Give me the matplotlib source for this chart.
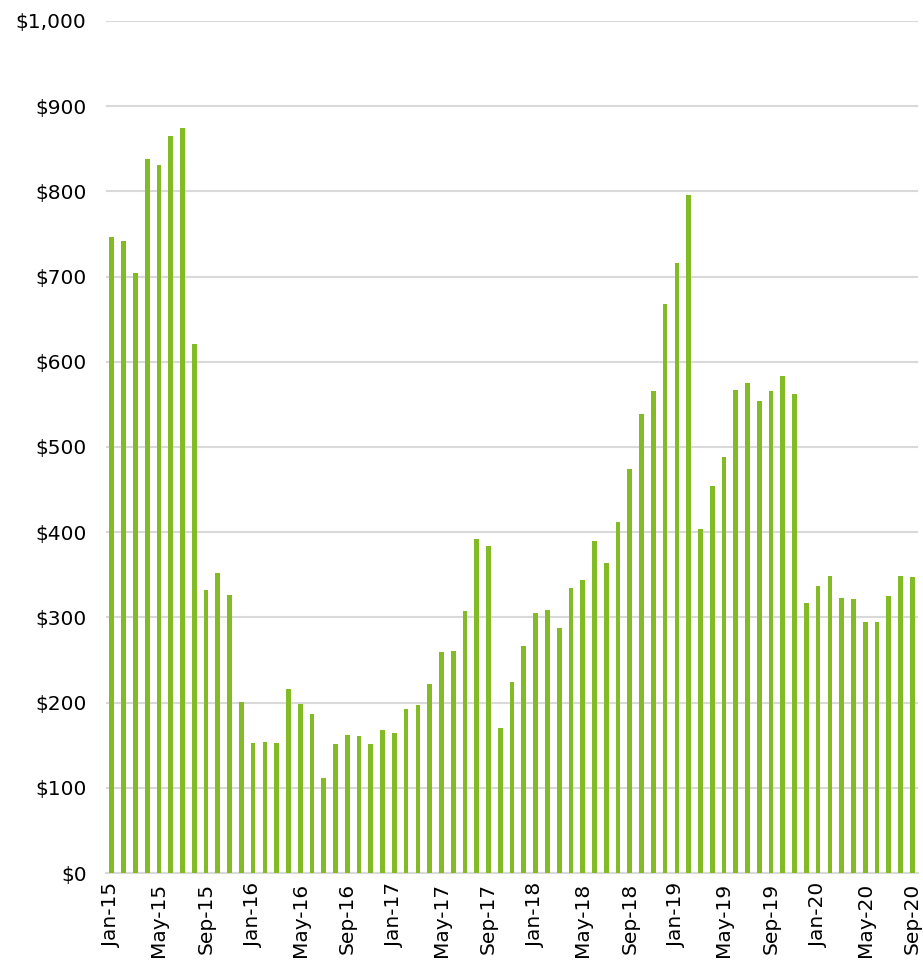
import numpy as np
import matplotlib.pyplot as plt
from matplotlib.ticker import FuncFormatter

# monthly values, Jan-15 .. Sep-20
months = ['Jan', 'Feb', 'Mar', 'Apr', 'May', 'Jun', 'Jul', 'Aug', 'Sep', 'Oct', 'Nov', 'Dec']
labels = [f'{m}-{y}' for y in range(15, 21) for m in months][:69]

values = [
    747, 742, 704, 838, 831, 865, 874, 621, 332, 352, 326, 201,
    153, 154, 152, 216, 198, 187, 111, 151, 162, 161, 151, 168,
    164, 192, 197, 222, 259, 260, 308, 392, 384, 170, 224, 267,
    305, 309, 288, 335, 344, 390, 364, 412, 474, 539, 566, 668,
    716, 796, 404, 454, 488, 567, 575, 554, 566, 583, 562, 317,
    337, 349, 323, 322, 295, 295, 325, 349, 347,
]

fig = plt.figure(figsize=(9.23, 9.67), dpi=100)
ax = fig.add_axes([0.1148, 0.0972, 0.88, 0.8811])

x = np.arange(len(values))
ax.bar(x, values, width=0.4, color='#82bb26', zorder=3)

ax.set_xlim(-0.5, len(values) - 0.5)
ax.set_ylim(0, 1000)
ax.set_yticks(np.arange(0, 1001, 100))
ax.yaxis.set_major_formatter(FuncFormatter(lambda v, p: f'${v:,.0f}'))
ax.set_xticks(x[::4])
ax.set_xticklabels(labels[::4], rotation=90)

ax.grid(axis='y', color='#d9d9d9', linewidth=1.5, zorder=0)
for s in ['top', 'right', 'left']:
    ax.spines[s].set_visible(False)
ax.spines['bottom'].set_color('#d9d9d9')
ax.spines['bottom'].set_linewidth(1.5)
ax.tick_params(length=0, labelsize=14.5, colors='black')
ax.tick_params(axis='y', pad=14)
ax.tick_params(axis='x', pad=7)

fig.savefig('out.png', dpi=100)
